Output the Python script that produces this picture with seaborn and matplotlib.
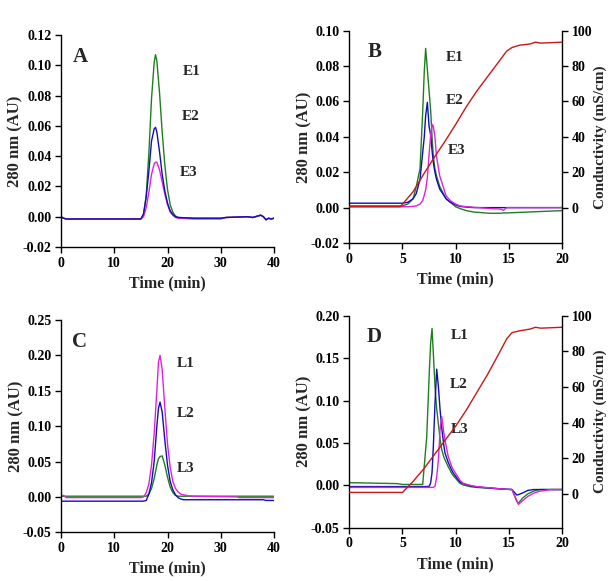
import matplotlib
matplotlib.use("Agg")
import matplotlib.pyplot as plt
import seaborn as sns
import numpy as np

# ---------------- data ----------------
# Panel A
time_a = [0, 0.5, 1, 15, 15.5, 16, 16.5, 17, 17.5, 17.75, 18, 18.5, 19, 19.5, 20, 20.5, 21,
          21.5, 22, 25, 30, 31, 35, 36, 37, 37.5, 38, 38.5, 39, 39.5, 40]
e1_a = [0.0, -0.001, -0.0015, -0.0015, 0.001, 0.014, 0.042, 0.078, 0.102, 0.107, 0.103, 0.082,
        0.056, 0.034, 0.018, 0.008, 0.003, 0.0005, -0.0005, -0.001, -0.001, -0.0005, 0.0, -0.0005,
        0.0005, 0.001, 0.0, -0.002, -0.001, -0.0015, -0.001]
e2_a = [0.0, -0.001, -0.0015, -0.0015, 0.002, 0.013, 0.030, 0.050, 0.058, 0.059, 0.056, 0.043,
        0.028, 0.017, 0.009, 0.004, 0.0015, 0.0, -0.0005, -0.001, -0.001, -0.0005, 0.0, -0.0005,
        0.0005, 0.001, 0.0, -0.002, -0.001, -0.0015, -0.001]
e3_a = [0.0, -0.001, -0.0015, -0.0015, 0.0, 0.006, 0.016, 0.028, 0.035, 0.036, 0.036, 0.031,
        0.023, 0.015, 0.008, 0.003, 0.001, -0.0005, -0.001, -0.0015, -0.0015, -0.0005, 0.0, -0.0005,
        0.0005, 0.001, 0.0, -0.002, -0.001, -0.0015, -0.001]

# Panel B
time_b = [0, 5, 5.5, 6, 6.3, 6.65, 6.9, 7.05, 7.18, 7.34, 7.5, 7.65, 7.8, 7.9, 8.05, 8.2, 8.5,
          9.1, 9.5, 10, 10.4, 11, 11.7, 13.2, 14.2, 14.5, 14.8, 20]
e1_b = [0.001, 0.001, 0.002, 0.005, 0.012, 0.022, 0.054, 0.077, 0.090, 0.078, 0.066, 0.055, 0.038,
        0.029, 0.022, 0.018, 0.012, 0.005, 0.003, 0.0005, -0.0005, -0.0017, -0.0025, -0.0032,
        -0.0032, -0.003, -0.003, -0.0017]
e2_b = [0.0025, 0.0025, 0.003, 0.005, 0.008, 0.016, 0.031, 0.040, 0.052, 0.0595, 0.046, 0.041,
        0.031, 0.0255, 0.020, 0.016, 0.0105, 0.005, 0.003, 0.0015, 0.0007, 0.0003, 0.0, 0.0, 0.0,
        0.0, 0.0, 0.0]
e3_b = [0.0005, 0.0005, 0.0005, 0.0007, 0.001, 0.002, 0.004, 0.007, 0.010, 0.017, 0.030, 0.041,
        0.047, 0.046, 0.040, 0.029, 0.018, 0.0067, 0.004, 0.002, 0.001, 0.0005, 0.0002, -0.0005,
        -0.0008, -0.0015, 0.0, 0.0]
cond_time_b = [0, 4.8, 6, 7, 8, 9, 10, 11, 12, 13, 14, 14.8, 15.3, 16, 17, 17.5, 18, 20]
cond_b = [0.5, 0.5, 9, 19, 28.5, 37.5, 47, 57, 66, 74, 82, 88.5, 90.5, 91.8, 92.5, 93.5, 93, 93.5]

# Panel C
time_c = [0, 0.5, 1, 15, 15.5, 16, 16.5, 17, 17.5, 18, 18.3, 18.6, 19, 19.5, 20, 20.5, 21, 21.5,
          22, 22.5, 23, 24, 25, 33, 33.5, 38, 38.5, 40]
l1_c = [0.002, 0.002, -0.001, -0.001, 0.0, 0.006, 0.018, 0.045, 0.09, 0.15, 0.19, 0.200, 0.18,
        0.125, 0.075, 0.042, 0.022, 0.012, 0.007, 0.004, 0.003, 0.0015, 0.001, 0.0, -0.001,
        -0.001, -0.001, -0.001]
l2_c = [-0.006, -0.006, -0.006, -0.006, -0.006, -0.005, 0.004, 0.02, 0.05, 0.10, 0.125, 0.134,
        0.12, 0.08, 0.045, 0.022, 0.01, 0.003, -0.001, -0.003, -0.004, -0.004, -0.004, -0.004,
        -0.004, -0.004, -0.005, -0.005]
l3_c = [0.001, 0.001, 0.001, 0.001, 0.001, 0.001, 0.004, 0.012, 0.026, 0.045, 0.054, 0.057,
        0.058, 0.045, 0.028, 0.014, 0.006, 0.002, 0.001, 0.001, 0.001, 0.001, 0.001, 0.001, 0.001,
        0.001, 0.001, 0.001]

# Panel D
time_d = [0, 0.5, 4.5, 5, 6.9, 7.28, 7.53, 7.65, 7.78, 7.9, 8.06, 8.22, 8.38, 8.53, 8.69, 8.9,
          9.0, 9.3, 9.63, 9.8, 10.4, 10.7, 11.35, 12, 14.5, 15.3, 15.75, 15.9, 16.3, 16.8, 17.3,
          17.9, 18.9, 20]
l1_d = [0.003, 0.003, 0.002, 0.001, 0.001, 0.057, 0.136, 0.168, 0.185, 0.156, 0.116, 0.090, 0.072,
        0.055, 0.042, 0.033, 0.030, 0.022, 0.014, 0.011, 0.0024, 0.0005, -0.0016, -0.0025, -0.0045,
        -0.005, -0.019, -0.021, -0.015, -0.010, -0.007, -0.005, -0.005, -0.005]
l2_d = [-0.0015, -0.0015, -0.0015, -0.0015, -0.0015, -0.0015, -0.001, 0.003, 0.015, 0.045, 0.097,
        0.137, 0.116, 0.09, 0.068, 0.046, 0.038, 0.027, 0.018, 0.014, 0.004, 0.002, -0.0005, -0.002,
        -0.0045, -0.005, -0.0115, -0.011, -0.009, -0.006, -0.005, -0.005, -0.005, -0.005]
l3_d = [-0.0025, -0.0025, -0.0025, -0.0025, -0.0025, -0.0025, -0.0025, -0.0025, -0.0025, -0.0025,
        -0.001, 0.01, 0.03, 0.065, 0.081, 0.061, 0.053, 0.034, 0.022, 0.018, 0.006, 0.0024, 0.0,
        -0.0016, -0.0045, -0.005, -0.018, -0.0225, -0.018, -0.013, -0.0095, -0.007, -0.005, -0.005]
cond_time_d = [0, 5.0, 6, 7, 8, 9, 10, 11, 12, 13, 14, 14.8, 15.3, 16, 17, 17.5, 18, 20]
cond_d = [0.8, 0.8, 7, 14, 22, 30, 38, 47, 57, 67, 78, 87, 90.5, 91.5, 92.5, 93.5, 93, 93.5]

# ---------------- style ----------------
sns.set_style("ticks")
plt.rcParams["font.family"] = ["Liberation Serif", "DejaVu Serif"]
plt.rcParams["font.weight"] = "bold"
plt.rcParams["axes.labelweight"] = "bold"
plt.rcParams["axes.unicode_minus"] = False

GREEN = "#1f7f1f"
BLUE = "#1010b4"
MAGENTA = "#e020e0"
RED = "#c81818"

TICK_FS = 10
LAB_FS = 11.5
YLAB_FS = 12
RLAB_FS = 11
LET_FS = 15
SER_FS = 11

fig = plt.figure(figsize=(6.12, 5.81), dpi=100)
W, H = 612.0, 581.0


def make_axes(left, right, top, bottom):
    return fig.add_axes([left / W, (H - bottom) / H, (right - left) / W, (bottom - top) / H])


ax_a = make_axes(61, 274, 35, 247)
ax_b = make_axes(349.3, 562, 30.7, 243)
ax_c = make_axes(61, 274, 320, 532.3)
ax_d = make_axes(349.3, 562, 315.7, 527.7)


def style_axes(ax, xlim, xticks, ylim, yticks):
    ax.set_xlim(*xlim)
    ax.set_ylim(*ylim)
    ax.set_xticks(xticks)
    ax.set_yticks(yticks)
    ax.set_xticklabels([f"{v:g}" for v in xticks], fontsize=TICK_FS, fontweight="bold")
    ax.set_yticklabels([f"{v:.2f}" for v in yticks], fontsize=TICK_FS, fontweight="bold")
    ax.tick_params(direction="out", length=4, width=1, colors="black", pad=3)
    for s in ["top", "right"]:
        ax.spines[s].set_visible(False)
    for s in ["left", "bottom"]:
        ax.spines[s].set_color("black")
        ax.spines[s].set_linewidth(1)
    ax.set_xlabel("Time (min)", fontsize=LAB_FS, fontweight="bold", labelpad=4)
    ax.set_ylabel("280 nm (AU)", fontsize=YLAB_FS, fontweight="bold", labelpad=-1)


def line(ax, x, y, color):
    sns.lineplot(x=x, y=y, ax=ax, color=color, lw=1.0, sort=False, estimator=None, legend=False)


def add_text(ax, x, y, s, fs):
    ax.text(x, y, s, transform=ax.transAxes, ha="center", va="center", fontsize=fs,
            fontweight="bold")


# Panel A
line(ax_a, time_a, e1_a, GREEN)
line(ax_a, time_a, e3_a, MAGENTA)
line(ax_a, time_a, e2_a, BLUE)
style_axes(ax_a, (0, 40), [0, 10, 20, 30, 40], (-0.02, 0.12),
           [-0.02, 0.0, 0.02, 0.04, 0.06, 0.08, 0.10, 0.12])
add_text(ax_a, 0.089, 0.896, "A", LET_FS)
add_text(ax_a, 0.614, 0.830, "E1", SER_FS)
add_text(ax_a, 0.609, 0.615, "E2", SER_FS)
add_text(ax_a, 0.601, 0.352, "E3", SER_FS)

# Panel B
line(ax_b, time_b, e1_b, GREEN)
line(ax_b, time_b, e2_b, BLUE)
line(ax_b, time_b, e3_b, MAGENTA)
style_axes(ax_b, (0, 20), [0, 5, 10, 15, 20], (-0.02, 0.10),
           [-0.02, 0.0, 0.02, 0.04, 0.06, 0.08, 0.10])
add_text(ax_b, 0.118, 0.901, "B", LET_FS)
add_text(ax_b, 0.497, 0.875, "E1", SER_FS)
add_text(ax_b, 0.497, 0.670, "E2", SER_FS)
add_text(ax_b, 0.506, 0.438, "E3", SER_FS)

# Panel C
line(ax_c, time_c, l3_c, GREEN)
line(ax_c, time_c, l1_c, MAGENTA)
line(ax_c, time_c, l2_c, BLUE)
style_axes(ax_c, (0, 40), [0, 10, 20, 30, 40], (-0.05, 0.25),
           [-0.05, 0.0, 0.05, 0.10, 0.15, 0.20, 0.25])
add_text(ax_c, 0.089, 0.895, "C", LET_FS)
add_text(ax_c, 0.587, 0.793, "L1", SER_FS)
add_text(ax_c, 0.584, 0.560, "L2", SER_FS)
add_text(ax_c, 0.584, 0.299, "L3", SER_FS)

# Panel D
line(ax_d, time_d, l1_d, GREEN)
line(ax_d, time_d, l2_d, BLUE)
line(ax_d, time_d, l3_d, MAGENTA)
style_axes(ax_d, (0, 20), [0, 5, 10, 15, 20], (-0.05, 0.20),
           [-0.05, 0.0, 0.05, 0.10, 0.15, 0.20])
add_text(ax_d, 0.115, 0.901, "D", LET_FS)
add_text(ax_d, 0.517, 0.906, "L1", SER_FS)
add_text(ax_d, 0.514, 0.675, "L2", SER_FS)
add_text(ax_d, 0.517, 0.461, "L3", SER_FS)


def twin(ax, t, c, ylim):
    tw = ax.twinx()
    sns.lineplot(x=t, y=c, ax=tw, color=RED, lw=1.0, sort=False, estimator=None, legend=False)
    tw.set_ylim(*ylim)
    tw.set_xlim(ax.get_xlim())
    tw.set_yticks([0, 20, 40, 60, 80, 100])
    tw.set_yticklabels(["0", "20", "40", "60", "80", "100"], fontsize=TICK_FS, fontweight="bold")
    tw.tick_params(direction="out", length=4, width=1, colors="black", pad=3)
    for s in ["top", "left", "bottom"]:
        tw.spines[s].set_visible(False)
    tw.spines["right"].set_visible(True)
    tw.spines["right"].set_color("black")
    tw.spines["right"].set_linewidth(1)
    tw.set_ylabel("Conductivity (mS/cm)", fontsize=RLAB_FS, fontweight="bold", labelpad=1)
    tw.set_xlabel("")
    return tw


twin(ax_b, cond_time_b, cond_b, (-20, 100))
twin(ax_d, cond_time_d, cond_d, (-19, 100))

fig.savefig("out.png", dpi=100, facecolor="white")
